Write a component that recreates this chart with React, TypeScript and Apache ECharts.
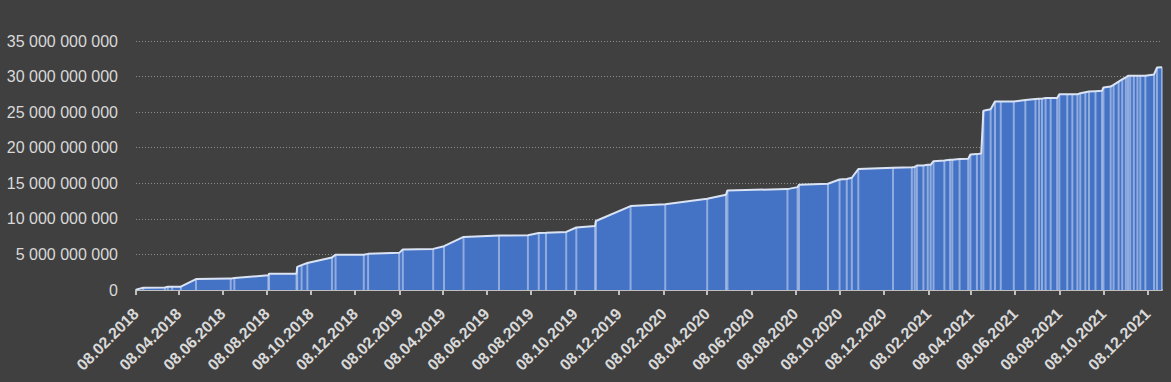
import React, { useEffect, useRef } from "react";
import * as echarts from "echarts";

// Dates of the data points
const dates: string[] = [
  "2018-02-08", "2018-02-18", "2018-03-20", "2018-03-24", "2018-03-30", "2018-04-11",
  "2018-05-02", "2018-06-19", "2018-06-24", "2018-08-10", "2018-08-11", "2018-09-18",
  "2018-09-19", "2018-09-25", "2018-10-03", "2018-11-06", "2018-11-11", "2018-12-20",
  "2018-12-26", "2019-02-07", "2019-02-12", "2019-03-26", "2019-04-10", "2019-05-07",
  "2019-06-25", "2019-08-04", "2019-08-19", "2019-08-29", "2019-09-26", "2019-10-10",
  "2019-11-05", "2019-11-06", "2019-12-24", "2020-02-10", "2020-04-08", "2020-05-04",
  "2020-05-06", "2020-07-28", "2020-08-11", "2020-08-13", "2020-09-22", "2020-10-08",
  "2020-10-18", "2020-10-25", "2020-11-03", "2020-12-21", "2021-01-16", "2021-01-20",
  "2021-01-23", "2021-02-01", "2021-02-07", "2021-02-11", "2021-02-15", "2021-03-02",
  "2021-03-10", "2021-03-13", "2021-03-23", "2021-04-04", "2021-04-07", "2021-04-16",
  "2021-04-22", "2021-04-25", "2021-05-05", "2021-05-11", "2021-05-19", "2021-06-06",
  "2021-06-22", "2021-07-06", "2021-07-11", "2021-07-15", "2021-07-20", "2021-07-27",
  "2021-08-05", "2021-08-08", "2021-08-19", "2021-08-26", "2021-09-02", "2021-09-06",
  "2021-09-13", "2021-09-18", "2021-09-27", "2021-10-06", "2021-10-08", "2021-10-18",
  "2021-10-22", "2021-10-29", "2021-11-03", "2021-11-08", "2021-11-11", "2021-11-14",
  "2021-11-19", "2021-11-24", "2021-11-28", "2021-12-05", "2021-12-17", "2021-12-21",
  "2021-12-28",
];

// Cumulative values (in billions)
const valuesBn: number[] = [
  0.05, 0.32, 0.35, 0.46, 0.46, 0.46,
  1.54, 1.6, 1.68, 2.06, 2.3, 2.3,
  3.26, 3.5, 3.8, 4.58, 4.95, 4.95,
  5.08, 5.22, 5.7, 5.78, 6.16, 7.46,
  7.65, 7.7, 8.02, 8.05, 8.16, 8.78,
  9.0, 9.7, 11.8, 12.04, 12.83, 13.4,
  14.0, 14.18, 14.46, 14.8, 14.94, 15.54,
  15.6, 15.78, 17.0, 17.18, 17.26, 17.3,
  17.5, 17.5, 17.6, 17.6, 18.1, 18.2,
  18.3, 18.3, 18.4, 18.45, 19.04, 19.1,
  19.2, 25.2, 25.4, 26.5, 26.5, 26.5,
  26.7, 26.84, 26.88, 26.9, 26.98, 27.0,
  27.0, 27.5, 27.5, 27.5, 27.5, 27.66,
  27.8, 27.9, 27.95, 28.0, 28.46, 28.6,
  28.84, 29.3, 29.6, 29.9, 30.1, 30.1,
  30.1, 30.1, 30.1, 30.1, 30.3, 31.26,
  31.3,
];

const xTickLabels: string[] = [
  "08.02.2018", "08.04.2018", "08.06.2018", "08.08.2018", "08.10.2018", "08.12.2018",
  "08.02.2019", "08.04.2019", "08.06.2019", "08.08.2019", "08.10.2019", "08.12.2019",
  "08.02.2020", "08.04.2020", "08.06.2020", "08.08.2020", "08.10.2020", "08.12.2020",
  "08.02.2021", "08.04.2021", "08.06.2021", "08.08.2021", "08.10.2021", "08.12.2021",
];

const yMax = 35000000000;
const yStep = 5000000000;

function isoToTs(s: string): number {
  const [y, m, d] = s.split("-").map(Number);
  return new Date(y, m - 1, d).getTime();
}
function dmyToTs(s: string): number {
  const [d, m, y] = s.split(".").map(Number);
  return new Date(y, m - 1, d).getTime();
}
function pad(n: number): string {
  return n < 10 ? "0" + n : "" + n;
}
function fmtDate(ts: number): string {
  const dt = new Date(ts);
  return pad(dt.getDate()) + "." + pad(dt.getMonth() + 1) + "." + dt.getFullYear();
}
function fmtNum(v: number): string {
  return Math.round(v).toString().replace(/\B(?=(\d{3})+(?!\d))/g, " ");
}

export default function App() {
  const ref = useRef<HTMLDivElement>(null);
  useEffect(() => {
    if (!ref.current) return;
    const chart = echarts.init(ref.current, null, { renderer: "svg" });
    const data = dates.map((d, i) => [isoToTs(d), valuesBn[i] * 1e9]);
    const tickTs = xTickLabels.map(dmyToTs);
    chart.setOption({
      animation: false,
      backgroundColor: "#404040",
      grid: { left: 136, right: 9, top: 41, bottom: 92, containLabel: false },
      xAxis: {
        type: "value",
        min: isoToTs(dates[0]),
        max: isoToTs(dates[dates.length - 1]),
        axisLine: { show: true, lineStyle: { color: "#bfbfbf", width: 2 } },
        axisTick: {
          show: true,
          length: 5,
          lineStyle: { color: "#bfbfbf", width: 2 },
          customValues: tickTs,
        },
        axisLabel: {
          rotate: 45,
          color: "#d9d9d9",
          fontFamily: "Liberation Sans",
          fontWeight: "bold",
          fontSize: 16,
          margin: 21,
          customValues: tickTs,
          formatter: (v: number) => fmtDate(v),
        },
        splitLine: { show: false },
      },
      yAxis: {
        type: "value",
        min: 0,
        max: yMax,
        interval: yStep,
        axisLine: { show: false },
        axisTick: { show: false },
        axisLabel: {
          color: "#d9d9d9",
          fontFamily: "Liberation Sans",
          fontSize: 16,
          margin: 18,
          formatter: (v: number) => fmtNum(v),
        },
        splitLine: {
          show: true,
          lineStyle: { color: "#8c8c8c", type: [1, 2], width: 1 },
        },
      },
      series: [
        {
          type: "line",
          data,
          symbol: "none",
          lineStyle: { width: 0 },
          areaStyle: { color: "#4472c4", opacity: 1 },
          z: 1,
        },
        {
          type: "bar",
          data,
          barWidth: 2,
          itemStyle: { color: "rgba(170,192,232,0.75)" },
          z: 2,
        },
        {
          type: "line",
          data,
          symbol: "none",
          lineStyle: { width: 2, color: "#dae3f3" },
          z: 3,
        },
      ],
    });
    return () => chart.dispose();
  }, []);
  return (
    <div
      ref={ref}
      style={{ position: "fixed", left: 0, top: 0, width: 1171, height: 382 }}
    />
  );
}
